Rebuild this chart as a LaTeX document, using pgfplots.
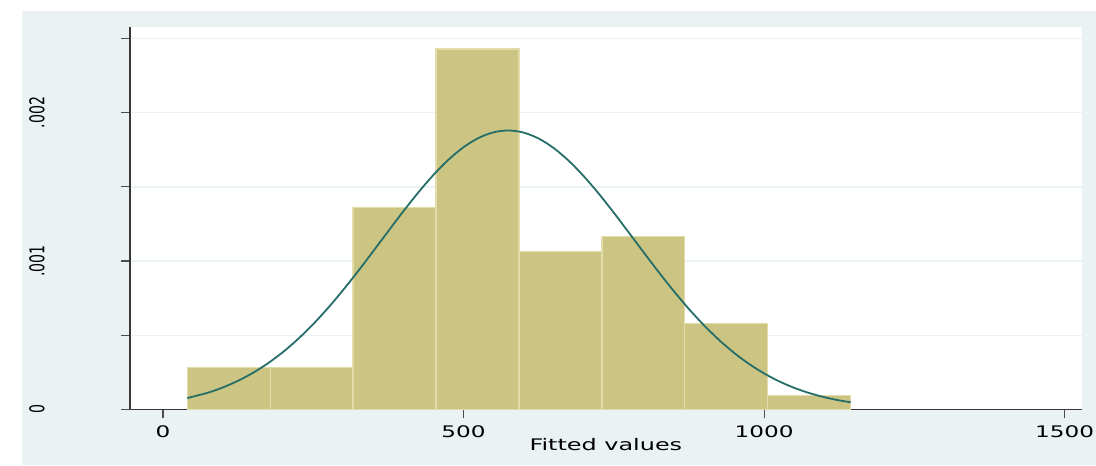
\documentclass[border=0pt]{standalone}
\usepackage{pgfplots}
\pgfplotsset{compat=1.18}
\usepackage{fontspec}
\setmainfont{DejaVu Sans}
\definecolor{bgc}{RGB}{234,242,243}
\definecolor{barc}{RGB}{203,196,131}
\definecolor{baredge}{RGB}{226,220,170}
\definecolor{curvec}{RGB}{38,110,104}
\begin{document}
\begin{tikzpicture}[x=1bp,y=1bp]
\useasboundingbox (0,0) rectangle (1096,466);
\fill[bgc] (22,1) rectangle (1096,455);
\begin{axis}[
  at={(130bp,56.5bp)}, anchor=south west,
  scale only axis, width=951.7bp, height=382bp,
  xmin=-54.9, xmax=1528.4, ymin=0, ymax=0.002574,
  axis background/.style={fill=white},
  axis x line*=bottom, axis y line*=left,
  axis line style={black!78, line width=1.3bp},
  tick align=outside, major tick length=9bp,
  tick style={black!70, line width=1.2bp},
  scaled y ticks=false, scaled x ticks=false,
  xtick={0,500,1000,1500},
  xticklabels={0,500,1000,1500},
  ytick={0,0.0005,0.001,0.0015,0.002,0.0025},
  yticklabels={0,,.001,,.002,},
  ymajorgrids, grid style={bgc, line width=1.3bp},
  xticklabel style={font=\fontsize{16}{16}\selectfont, inner sep=0pt, anchor=north, xscale=1.45},
  yticklabel style={font=\fontsize{14.2}{14.2}\selectfont, inner sep=0pt, anchor=south, xscale=1.44, rotate=90},
  yticklabel shift=76bp,
  xticklabel shift=7bp,
  xlabel={Fitted values},
  xlabel style={at={(axis description cs:0.5,0)}, anchor=base, yshift=-41.5bp, font=\fontsize{16}{16}\selectfont, xscale=1.5, inner sep=0pt},
]
\addplot[ybar interval, fill=barc, draw=baredge, line width=1.3bp] coordinates {
(40.4,0.000284) (178.35,0.000284) (316.3,0.001360) (454.25,0.002429)
(592.2,0.001063) (730.15,0.001164) (868.1,0.000581) (1006.05,0.000093)
(1144,0.000093)};
\addplot[curvec, line width=1.8bp, smooth, mark=none] coordinates {
(40.4,0.0000770) (75,0.0001135) (100,0.0001493) (125,0.0001937) (150,0.0002478)
(175,0.0003125) (200,0.0003884) (225,0.0004762) (250,0.0005756) (275,0.0006862)
(300,0.0008065) (325,0.0009345) (350,0.0010678) (375,0.0012030) (400,0.0013363)
(425,0.0014637) (450,0.0015808) (475,0.0016834) (500,0.0017674) (525,0.0018298)
(550,0.0018678) (575,0.0018800) (600,0.0018657) (625,0.0018257) (650,0.0017615)
(675,0.0016758) (700,0.0015719) (725,0.0014538) (750,0.0013258) (775,0.0011922)
(800,0.0010570) (825,0.0009241) (850,0.0007966) (875,0.0006770) (900,0.0005674)
(925,0.0004688) (950,0.0003819) (975,0.0003068) (1000,0.0002430) (1025,0.0001898)
(1050,0.0001461) (1075,0.0001110) (1100,0.0000831) (1125,0.0000613) (1144,0.0000491)};
\end{axis}
\end{tikzpicture}
\end{document}
